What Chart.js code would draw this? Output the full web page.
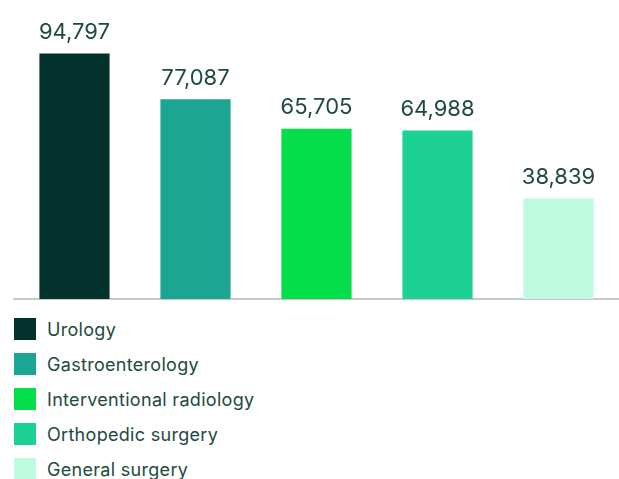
<!DOCTYPE html>
<html>
<head>
<meta charset="utf-8">
<script src="https://cdn.jsdelivr.net/npm/chart.js"></script>
<style>
  body { margin: 0; background: #fff; font-family: Inter, "Noto Sans", sans-serif; }
  #wrap { position: relative; width: 619px; height: 315px; }
  #legend { list-style: none; margin: 0; padding: 0; position: absolute; left: 14px; top: 318px; }
  #legend li { display: flex; align-items: center; height: 22px; margin-bottom: 13px; font-size: 18px; letter-spacing: 0.3px; color: #1d4a3e; }
  #legend span { display: inline-block; width: 22px; height: 22px; margin-right: 11px; }
</style>
</head>
<body>
<div id="wrap"><canvas id="chart"></canvas></div>
<ul id="legend"></ul>
<script>
const categories = ['Urology', 'Gastroenterology', 'Interventional radiology', 'Orthopedic surgery', 'General surgery'];
const values = [94797, 77087, 65705, 64988, 38839];
const colors = ['#03312b', '#1ba592', '#05de4b', '#1dd195', '#bffbe0'];

// value labels above each bar
const valueLabels = {
  id: 'valueLabels',
  afterDatasetsDraw(chart) {
    const ctx = chart.ctx;
    const meta = chart.getDatasetMeta(0);
    ctx.save();
    ctx.font = '22px Inter, "Noto Sans", sans-serif';
    ctx.fillStyle = '#1d4a3e';
    ctx.textAlign = 'center';
    ctx.textBaseline = 'bottom';
    meta.data.forEach((bar, i) => {
      ctx.fillText(values[i].toLocaleString('en-US'), bar.x, bar.y - 10);
    });
    ctx.restore();
  }
};

new Chart(document.getElementById('chart'), {
  type: 'bar',
  data: {
    labels: categories,
    datasets: [{ data: values, backgroundColor: colors, barPercentage: 0.58, categoryPercentage: 1 }]
  },
  options: {
    responsive: true,
    maintainAspectRatio: false,
    animation: false,
    layout: { padding: { left: 14, right: 0, top: 14, bottom: 8 } },
    plugins: { legend: { display: false }, tooltip: { enabled: false } },
    scales: {
      x: {
        grid: { display: false },
        ticks: { display: false },
        border: { display: true, color: '#c8c8c8', width: 2 }
      },
      y: { display: false, min: 0, max: 110000 }
    }
  },
  plugins: [valueLabels]
});

const legend = document.getElementById('legend');
categories.forEach((c, i) => {
  const li = document.createElement('li');
  li.innerHTML = `<span style="background:${colors[i]}"></span>${c}`;
  legend.appendChild(li);
});
</script>
</body>
</html>
